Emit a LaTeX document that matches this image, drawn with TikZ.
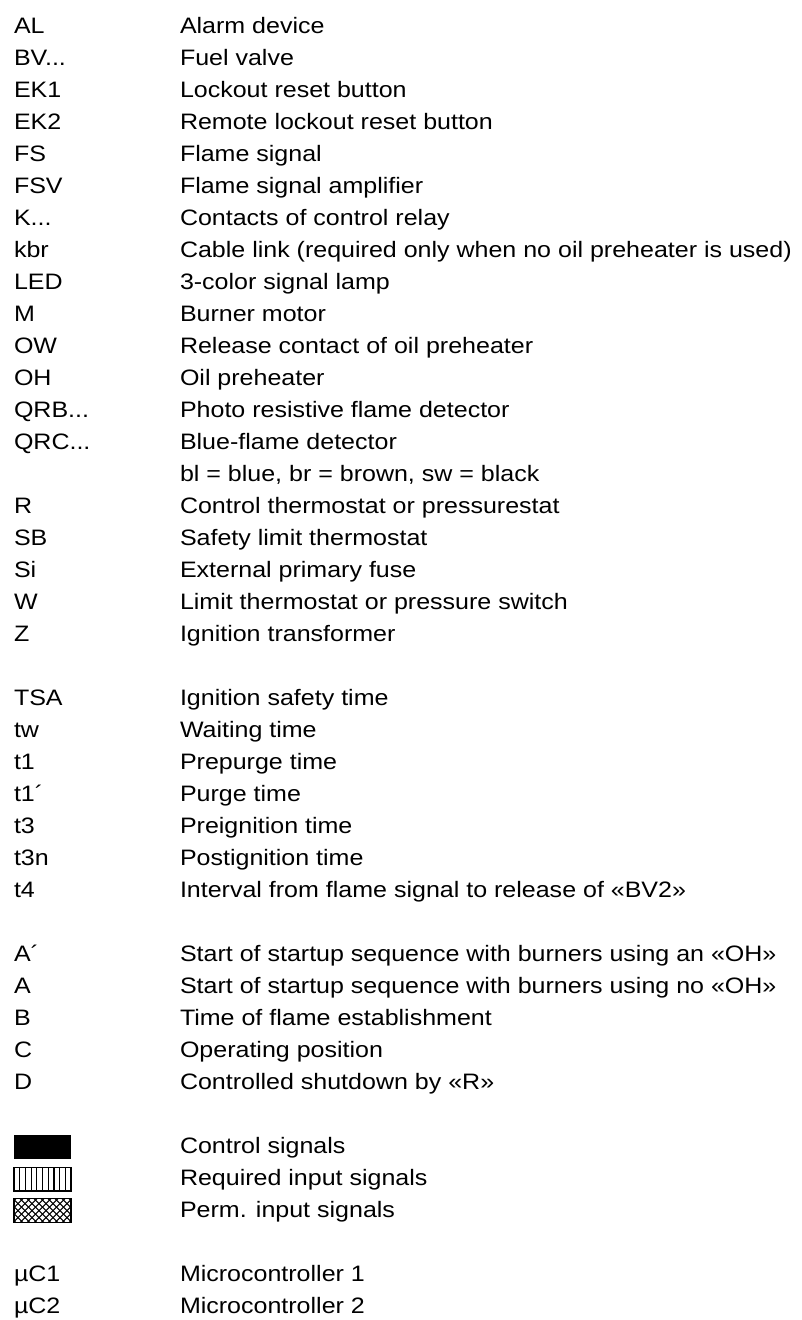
\documentclass[tikz,border=0pt]{standalone}
\usepackage{fontspec}
\setmainfont{Liberation Sans}[FakeStretch=1.12]
\begin{document}
\begin{tikzpicture}[x=0.75pt,y=-0.75pt,
  every node/.style={inner sep=0pt,outer sep=0pt,font=\fontsize{16.75}{19}\selectfont},
  lbl/.style={anchor=base west},
  sym/.style={line width=0.9pt}]
\useasboundingbox (0,0) rectangle (802,1320);
\def\L{14}\def\R{180}
\newcommand{\row}[4]{%
  \node[lbl] (k#1) at (\L,{33.5+32*#2}) {#3};
  \node[lbl] (v#1) at (\R,{33.5+32*#2}) {#4};}
\row{al}{0}{AL}{Alarm device}
\row{bv}{1}{BV...}{Fuel valve}
\row{ek1}{2}{EK1}{Lockout reset button}
\row{ek2}{3}{EK2}{Remote lockout reset button}
\row{fs}{4}{FS}{Flame signal}
\row{fsv}{5}{FSV}{Flame signal amplifier}
\row{k}{6}{K...}{Contacts of control relay}
\row{kbr}{7}{kbr}{Cable link (required only when no oil preheater is used)}
\row{led}{8}{LED}{3-color signal lamp}
\row{m}{9}{M}{Burner motor}
\row{ow}{10}{OW}{Release contact of oil preheater}
\row{oh}{11}{OH}{Oil preheater}
\row{qrb}{12}{QRB...}{Photo resistive flame detector}
\row{qrc}{13}{QRC...}{Blue-flame detector}
\node[lbl] (vcol) at (\R,{33.5+32*14}) {bl = blue, br = brown, sw = black};
\row{r}{15}{R}{Control thermostat or pressurestat}
\row{sb}{16}{SB}{Safety limit thermostat}
\row{si}{17}{Si}{External primary fuse}
\row{w}{18}{W}{Limit thermostat or pressure switch}
\row{z}{19}{Z}{Ignition transformer}
\row{tsa}{21}{TSA}{Ignition safety time}
\row{tw}{22}{tw}{Waiting time}
\row{t1}{23}{t1}{Prepurge time}
\row{t1p}{24}{t1´}{Purge time}
\row{t3}{25}{t3}{Preignition time}
\row{t3n}{26}{t3n}{Postignition time}
\row{t4}{27}{t4}{Interval from flame signal to release of «BV2»}
\row{ap}{29}{A´}{Start of startup sequence with burners using an «OH»}
\row{a}{30}{A}{Start of startup sequence with burners using no «OH»}
\row{b}{31}{B}{Time of flame establishment}
\row{c}{32}{C}{Operating position}
\row{d}{33}{D}{Controlled shutdown by «R»}
\node[lbl] (vctl) at (\R,{33.5+32*35}) {Control signals};
\node[lbl] (vreq) at (\R,{33.5+32*36}) {Required input signals};
\node[lbl] (vperm) at (\R,{33.5+32*37}) {Perm. input signals};
\row{uc1}{39}{µC1}{Microcontroller 1}
\row{uc2}{40}{µC2}{Microcontroller 2}
% symbols
\fill (14,1135) rectangle (71,1159);
\draw[sym] (14,1167.5) rectangle (71,1191);
\foreach \i in {1,...,9} \draw[sym] ({14+5.7*\i},1167.5) -- ({14+5.7*\i},1191);
\begin{scope}
  \clip (14,1198.5) rectangle (71,1222.5);
  \foreach \i in {-4,...,12} {
    \draw[line width=0.8pt] ({6+7*\i},1222.5) -- ({30+7*\i},1198.5);
    \draw[line width=0.8pt] ({6+7*\i},1198.5) -- ({30+7*\i},1222.5);
  }
\end{scope}
\draw[sym] (14,1198.5) rectangle (71,1222.5);
\end{tikzpicture}
\end{document}
